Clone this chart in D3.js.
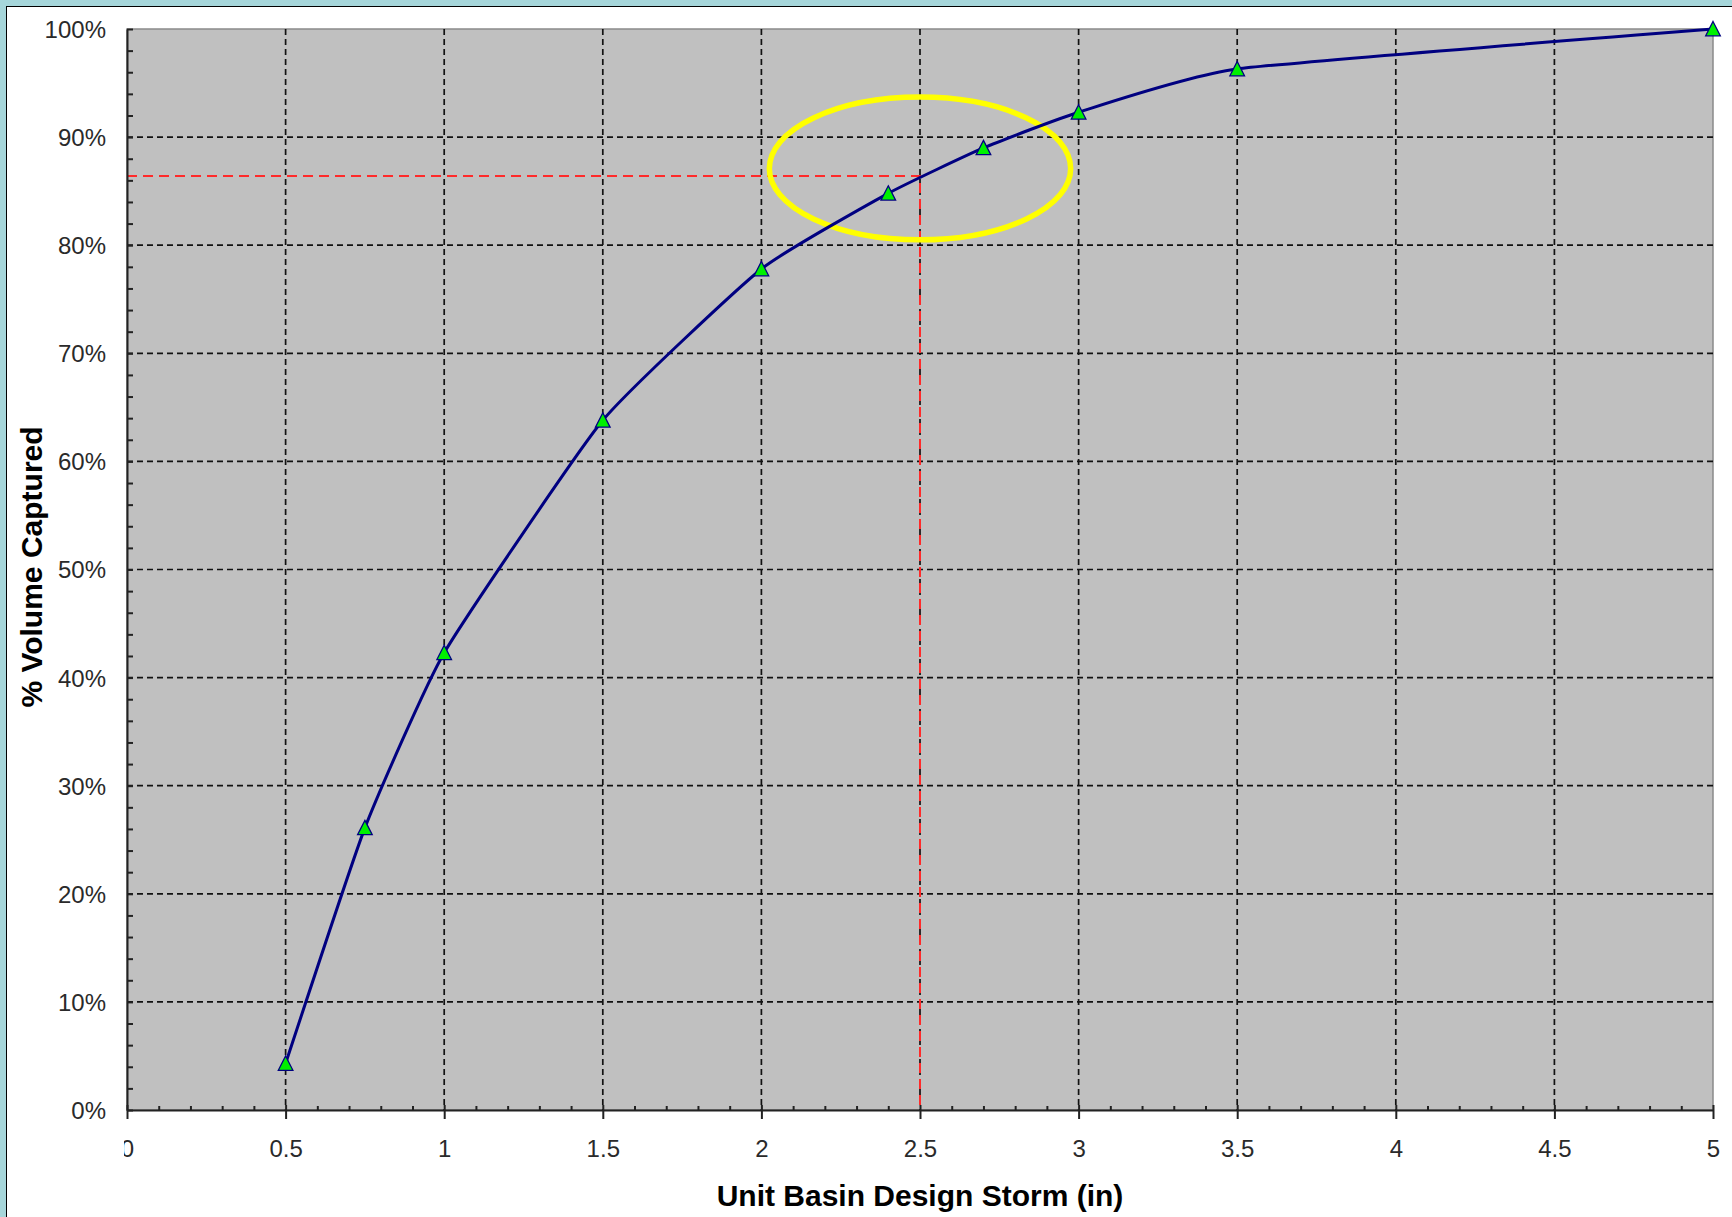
<!DOCTYPE html>
<html>
<head>
<meta charset="utf-8">
<script src="https://cdn.jsdelivr.net/npm/d3@7/dist/d3.min.js"></script>
<style>
    body { margin: 0; background: #a6d6da; }
    svg { display: block; }
</style>
</head>
<body>
<script>
const stormDepth = [0.5, 0.75, 1, 1.5, 2, 2.4, 2.7, 3, 3.5, 5];
const volumeCaptured = [0.043, 0.261, 0.423, 0.638, 0.778, 0.848, 0.890, 0.923, 0.963, 1.0];
const xTicks = [0, 0.5, 1, 1.5, 2, 2.5, 3, 3.5, 4, 4.5, 5];
const xTickLabels = ["0", "0.5", "1", "1.5", "2", "2.5", "3", "3.5", "4", "4.5", "5"];
const yTicks = [0, 0.1, 0.2, 0.3, 0.4, 0.5, 0.6, 0.7, 0.8, 0.9, 1];
const yTickLabels = ["0%", "10%", "20%", "30%", "40%", "50%", "60%", "70%", "80%", "90%", "100%"];
const xMinor = d3.range(0, 51).map(d => d / 10).filter(d => Math.round(d * 10) % 5 !== 0);
const yMinor = d3.range(0, 51).map(d => d / 50).filter(d => Math.round(d * 50) % 5 !== 0);
const designStorm = 2.5;
const designCapture = 0.864;
// yellow ring around the design point (data units)
const ringCenter = [2.5, 0.871];
const ringRadius = [0.475, 0.066];

const W = 1732, H = 1217;
const margin = {top: 29, right: 19, bottom: 107, left: 127},
    width = W - margin.left - margin.right,
    height = H - margin.top - margin.bottom;

const font = "Arial, 'Liberation Sans', sans-serif";

let xScale = d3.scaleLinear().domain([0, 5]).range([0, width]);
let yScale = d3.scaleLinear().domain([0, 1]).range([height, 0]);

let root = d3.select("body").append("svg")
    .attr("width", W)
    .attr("height", H);

// white panel inside the teal frame
root.append("rect")
    .attr("x", 6.5).attr("y", 6.5)
    .attr("width", W + 20).attr("height", H + 20)
    .attr("fill", "#fff")
    .attr("stroke", "#000")
    .attr("stroke-width", 1);

let svg = root.append("g")
    .attr("transform", "translate(" + margin.left + "," + margin.top + ")");

svg.append("rect")
    .attr("width", width)
    .attr("height", height)
    .attr("fill", "#c0c0c0")
    .attr("stroke", "#8a8a8a")
    .attr("stroke-width", 1.5);

// grid
svg.append("g").selectAll("line")
    .data(yTicks.filter(d => d > 0 && d < 1))
    .enter().append("line")
    .attr("x1", 0).attr("x2", width)
    .attr("y1", d => yScale(d)).attr("y2", d => yScale(d))
    .attr("stroke", "#111")
    .attr("stroke-width", 1.7)
    .attr("stroke-dasharray", "6,4");

svg.append("g").selectAll("line")
    .data(xTicks.filter(d => d > 0 && d < 5))
    .enter().append("line")
    .attr("x1", d => xScale(d)).attr("x2", d => xScale(d))
    .attr("y1", 0).attr("y2", height)
    .attr("stroke", "#111")
    .attr("stroke-width", 1.7)
    .attr("stroke-dasharray", "6,4");

// red guide lines to the design storm
svg.append("path")
    .attr("d", "M" + xScale(0) + "," + yScale(designCapture) +
        "H" + xScale(designStorm) + "V" + yScale(0))
    .attr("fill", "none")
    .attr("stroke", "#ff2a2a")
    .attr("stroke-width", 2)
    .attr("stroke-dasharray", "10,6");

svg.append("ellipse")
    .attr("cx", xScale(ringCenter[0]))
    .attr("cy", yScale(ringCenter[1]))
    .attr("rx", xScale(ringRadius[0]) - xScale(0))
    .attr("ry", yScale(0) - yScale(ringRadius[1]))
    .attr("fill", "none")
    .attr("stroke", "#ffff00")
    .attr("stroke-width", 5.5);

// the curve (excel-style smoothing, fairly tight)
let valueline = d3.line()
    .x((d, i) => xScale(stormDepth[i]))
    .y(d => yScale(d))
    .curve(d3.curveCardinal.tension(0.55));

svg.append("path")
    .datum(volumeCaptured)
    .attr("d", valueline)
    .attr("fill", "none")
    .attr("stroke", "#000080")
    .attr("stroke-width", 3);

svg.append("g").selectAll("path")
    .data(volumeCaptured)
    .enter().append("path")
    .attr("transform", (d, i) => "translate(" + xScale(stormDepth[i]) + "," + yScale(d) + ")")
    .attr("d", "M0,-7.5L7.3,6.8L-7.3,6.8Z")
    .attr("fill", "#00f000")
    .attr("stroke", "#000080")
    .attr("stroke-width", 1.3);

// y axis
let yAxis = svg.append("g")
    .call(d3.axisLeft(yScale)
        .tickValues(yTicks)
        .tickFormat((d, i) => yTickLabels[i])
        .tickSizeInner(8)
        .tickSizeOuter(0)
        .tickPadding(13));
yAxis.selectAll(".tick line").attr("x2", 6).attr("stroke", "#222").attr("stroke-width", 2);
yAxis.select(".domain").attr("stroke", "#222").attr("stroke-width", 2);
yAxis.selectAll("text")
    .attr("font-family", font)
    .attr("font-size", 24)
    .attr("fill", "#2a2a2a")
    .attr("dy", "0.35em");

svg.append("g")
    .call(d3.axisLeft(yScale).tickValues(yMinor).tickFormat("").tickSizeInner(-6).tickSizeOuter(0))
    .call(g => g.select(".domain").remove())
    .selectAll("line").attr("stroke", "#222").attr("stroke-width", 2);

// x axis
svg.append("clipPath")
    .attr("id", "xclip")
    .append("rect")
    .attr("x", -3).attr("y", -10)
    .attr("width", width + 60).attr("height", 120);

let xAxis = svg.append("g")
    .attr("transform", "translate(0," + height + ")")
    .attr("clip-path", "url(#xclip)")
    .call(d3.axisBottom(xScale)
        .tickValues(xTicks)
        .tickFormat((d, i) => xTickLabels[i])
        .tickSizeInner(9)
        .tickSizeOuter(0)
        .tickPadding(21));
xAxis.selectAll(".tick line").attr("y1", -5).attr("stroke", "#222").attr("stroke-width", 2);
xAxis.select(".domain").attr("stroke", "#222").attr("stroke-width", 2);
xAxis.selectAll("text")
    .attr("font-family", font)
    .attr("font-size", 24)
    .attr("fill", "#2a2a2a");

svg.append("g")
    .attr("transform", "translate(0," + height + ")")
    .call(d3.axisBottom(xScale).tickValues(xMinor).tickFormat("").tickSizeInner(-4).tickSizeOuter(0))
    .call(g => g.select(".domain").remove())
    .selectAll("line").attr("stroke", "#222").attr("stroke-width", 2);

// titles
svg.append("text")
    .attr("x", width / 2)
    .attr("y", 1177)
    .attr("text-anchor", "middle")
    .attr("font-family", font)
    .attr("font-weight", "bold")
    .attr("font-size", 30)
    .text("Unit Basin Design Storm (in)");

svg.append("text")
    .attr("transform", "translate(" + (42 - margin.left) + "," + (567 - margin.top) + ") rotate(-90)")
    .attr("text-anchor", "middle")
    .attr("font-family", font)
    .attr("font-weight", "bold")
    .attr("font-size", 30)
    .text("% Volume Captured");
</script>
</body>
</html>
